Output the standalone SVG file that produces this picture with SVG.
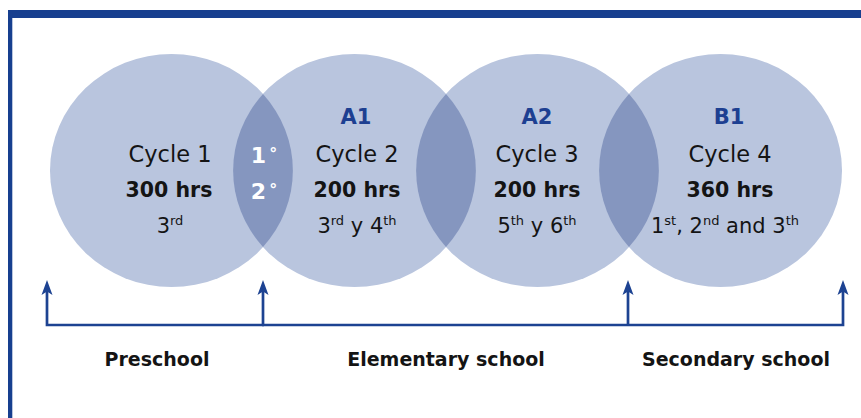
<svg xmlns="http://www.w3.org/2000/svg" width="861" height="418" viewBox="0 0 861 418">
  <style>
    .circ { fill: #b9c5de; }
    .lens { fill: #8596bf; }
    .t { font-family: "DejaVu Sans", "Liberation Sans", sans-serif; fill: #141414; text-anchor: middle; }
    .cyc { font-size: 22.5px; }
    .hrs { font-size: 20.5px; font-weight: bold; }
    .grd { font-size: 21px; }
    .sup { font-size: 13px; }
    .lvl { font-size: 21px; font-weight: bold; fill: #1d3f91; }
    .deg { font-family: "DejaVu Sans", "Liberation Sans", sans-serif; font-size: 22px; font-weight: bold; fill: #ffffff; text-anchor: middle; }
    .lab { font-family: "DejaVu Sans", "Liberation Sans", sans-serif; font-size: 19px; font-weight: bold; fill: #141414; text-anchor: middle; }
    .con { fill: none; stroke: #1d4392; stroke-width: 2.7; stroke-linejoin: miter; }
  </style>
  <defs>
    <marker id="ah" markerUnits="userSpaceOnUse" viewBox="0 -6 16 12" markerWidth="16" markerHeight="12" refX="5" refY="0" orient="auto">
      <path d="M15,0 L0,-5.5 L3.5,0 L0,5.5 Z" fill="#1d4392"/>
    </marker>
  </defs>

  <g id="frame">
    <rect x="8" y="10" width="853" height="8" fill="#173f8f"/>
    <rect x="8" y="10" width="4.3" height="408" fill="#173f8f"/>
  </g>

  <g id="circles">
    <ellipse class="circ" cx="171.5" cy="170.5" rx="121.5" ry="116.5"/>
    <ellipse class="circ" cx="354.5" cy="170.5" rx="121.5" ry="116.5"/>
    <ellipse class="circ" cx="537.5" cy="170.5" rx="121.5" ry="116.5"/>
    <ellipse class="circ" cx="720.5" cy="170.5" rx="121.5" ry="116.5"/>
    <path class="lens" d="M263,94 A121.5,116.5 0 0 1 263,247 A121.5,116.5 0 0 1 263,94 Z"/>
    <path class="lens" d="M446,94 A121.5,116.5 0 0 1 446,247 A121.5,116.5 0 0 1 446,94 Z"/>
    <path class="lens" d="M629,94 A121.5,116.5 0 0 1 629,247 A121.5,116.5 0 0 1 629,94 Z"/>
  </g>

  <g id="cycle1">
    <text class="t cyc" x="170" y="162">Cycle 1</text>
    <text class="t hrs" x="169" y="197">300 hrs</text>
    <text class="t grd" x="170" y="233">3<tspan class="sup" dy="-8">rd</tspan></text>
  </g>

  <g id="overlap12">
    <text class="deg" x="264" y="163">1<tspan dx="3" dy="-4" font-size="16">°</tspan></text>
    <text class="deg" x="264" y="199">2<tspan dx="3" dy="-4" font-size="16">°</tspan></text>
  </g>

  <g id="cycle2">
    <text class="t lvl" x="356" y="124">A1</text>
    <text class="t cyc" x="357" y="162">Cycle 2</text>
    <text class="t hrs" x="357" y="197">200 hrs</text>
    <text class="t grd" x="357" y="233">3<tspan class="sup" dy="-8">rd</tspan><tspan dy="8"> y 4</tspan><tspan class="sup" dy="-8">th</tspan></text>
  </g>

  <g id="cycle3">
    <text class="t lvl" x="537" y="124">A2</text>
    <text class="t cyc" x="537" y="162">Cycle 3</text>
    <text class="t hrs" x="537" y="197">200 hrs</text>
    <text class="t grd" x="537" y="233">5<tspan class="sup" dy="-8">th</tspan><tspan dy="8"> y 6</tspan><tspan class="sup" dy="-8">th</tspan></text>
  </g>

  <g id="cycle4">
    <text class="t lvl" x="729" y="124">B1</text>
    <text class="t cyc" x="730" y="162">Cycle 4</text>
    <text class="t hrs" x="730" y="197">360 hrs</text>
    <text class="t grd" x="725" y="233">1<tspan class="sup" dy="-8">st</tspan><tspan dy="8">, 2</tspan><tspan class="sup" dy="-8">nd</tspan><tspan dy="8"> and 3</tspan><tspan class="sup" dy="-8">th</tspan></text>
  </g>

  <g id="connectors">
    <path class="con" d="M264,325 H47 V290" marker-end="url(#ah)"/>
    <path class="con" d="M262,325 H843 V290" marker-end="url(#ah)"/>
    <path class="con" d="M263,325 V290" marker-end="url(#ah)"/>
    <path class="con" d="M628,325 V290" marker-end="url(#ah)"/>
  </g>

  <g id="label-preschool">
    <text class="lab" x="157" y="366">Preschool</text>
  </g>
  <g id="label-elementary">
    <text class="lab" x="446" y="366">Elementary school</text>
  </g>
  <g id="label-secondary">
    <text class="lab" x="736" y="366">Secondary school</text>
  </g>
</svg>
